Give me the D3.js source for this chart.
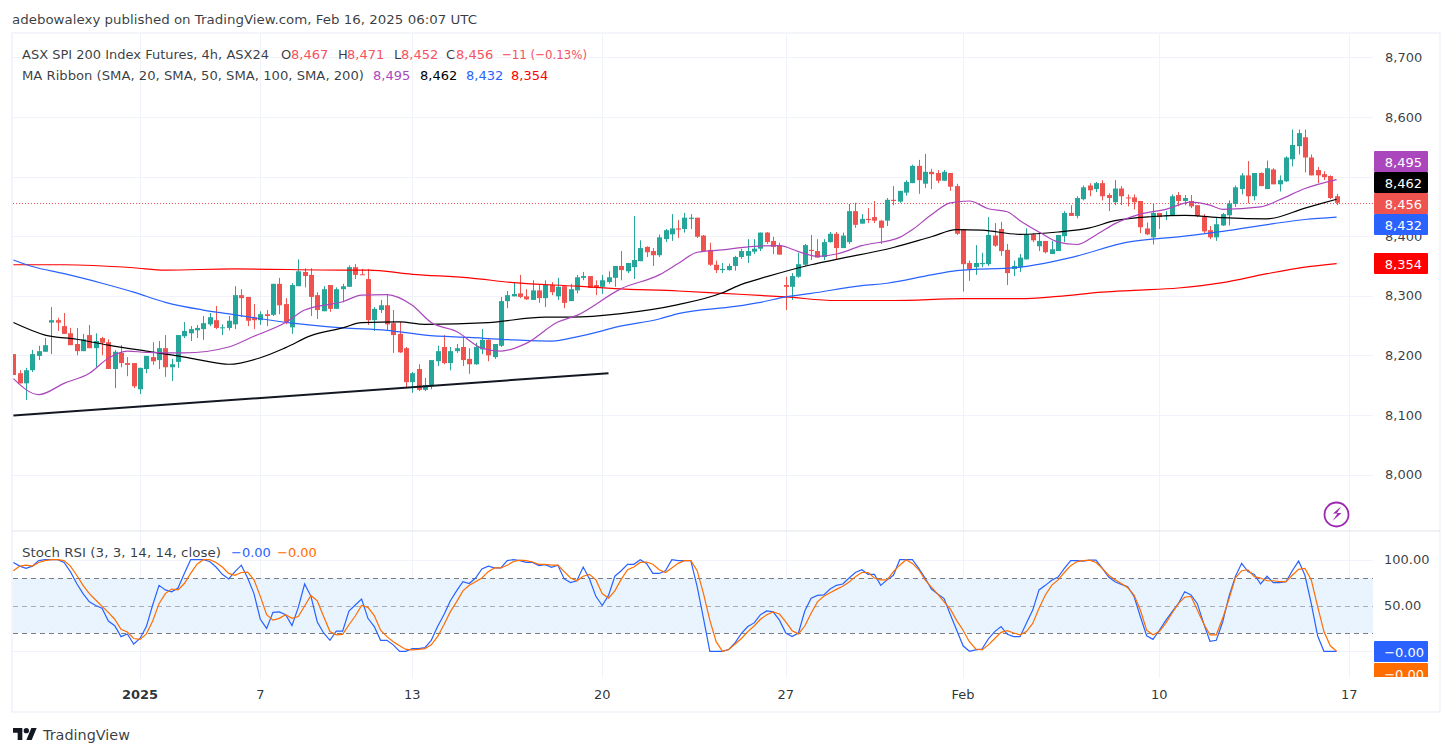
<!DOCTYPE html>
<html><head><meta charset="utf-8">
<script src="https://cdn.jsdelivr.net/npm/d3@7"></script>
<style>html,body{margin:0;padding:0;background:#fff}svg{display:block}text{font-family:"DejaVu Sans",sans-serif}</style>
</head><body><svg id="c" width="1453" height="756"></svg>
<script>
const opens=[8202,8170,8153,8175,8199,8206,8255,8259,8249,8237,
8219,8207,8234,8212,8229,8222,8177,8204,8187,8187,
8143,8177,8197,8192,8212,8180,8189,8232,8237,8242,
8244,8252,8259,8246,8246,8252,8301,8298,8264,8259,
8269,8268,8320,8286,8247,8316,8340,8335,8301,8274,
8318,8278,8311,8315,8348,8336,8328,8259,8276,8284,
8254,8236,8212,8155,8177,8142,8148,8190,8214,8187,
8207,8214,8194,8185,8210,8226,8197,8216,8291,8299,
8304,8299,8293,8309,8296,8318,8299,8316,8291,8309,
8330,8333,8318,8315,8323,8330,8350,8341,8348,8358,
8382,8375,8368,8395,8403,8413,8412,8429,8431,8401,
8377,8352,8343,8343,8350,8365,8367,8374,8379,8406,
8392,8385,8318,8315,8332,8352,8377,8375,8365,8390,
8404,8380,8390,8442,8421,8429,8432,8426,8426,8461,
8458,8473,8489,8518,8488,8508,8506,8493,8506,8484,
8411,8355,8348,8353,8353,8401,8412,8377,8345,8348,
8361,8403,8383,8392,8370,8375,8400,8439,8434,8462,
8485,8479,8489,8469,8457,8480,8465,8465,8459,8413,
8398,8439,8434,8434,8469,8459,8459,8452,8432,8410,
8398,8418,8435,8454,8479,8502,8467,8506,8479,8512,
8487,8492,8529,8551,8566,8532,8511,8504,8501,8467];
const highs=[8202,8175,8179,8209,8216,8229,8281,8263,8271,8246,
8246,8236,8251,8237,8231,8227,8209,8217,8197,8187,
8179,8199,8222,8224,8234,8194,8234,8256,8249,8251,
8266,8271,8283,8252,8266,8316,8311,8298,8286,8274,
8276,8320,8330,8296,8321,8361,8346,8346,8306,8316,
8318,8314,8320,8351,8353,8345,8345,8281,8293,8303,
8276,8256,8214,8172,8185,8162,8192,8216,8234,8214,
8219,8231,8212,8221,8244,8227,8219,8298,8308,8323,
8335,8311,8326,8318,8326,8323,8330,8316,8320,8335,
8340,8333,8326,8335,8341,8350,8375,8355,8434,8393,
8383,8380,8403,8412,8437,8427,8439,8437,8431,8402,
8389,8359,8355,8354,8367,8379,8395,8395,8406,8407,
8399,8389,8332,8338,8372,8387,8402,8395,8395,8407,
8407,8406,8454,8456,8437,8447,8459,8427,8464,8484,
8476,8494,8520,8528,8538,8513,8511,8511,8506,8488,
8411,8359,8385,8372,8432,8422,8424,8387,8359,8370,
8413,8405,8405,8392,8392,8402,8442,8452,8467,8485,
8489,8491,8494,8472,8494,8484,8470,8470,8459,8423,
8454,8439,8442,8470,8474,8469,8469,8452,8437,8417,
8432,8439,8460,8485,8506,8526,8506,8507,8527,8514,
8502,8534,8579,8579,8579,8537,8516,8509,8502,8471];
const lows=[8167,8153,8125,8172,8192,8206,8202,8241,8236,8217,
8200,8207,8212,8180,8200,8177,8145,8180,8165,8145,
8135,8170,8184,8177,8164,8157,8179,8229,8224,8229,
8226,8249,8244,8234,8242,8244,8264,8249,8244,8251,
8249,8266,8269,8252,8236,8316,8314,8266,8261,8274,
8273,8278,8289,8315,8328,8335,8251,8241,8271,8241,
8204,8204,8147,8137,8140,8140,8143,8182,8185,8175,
8204,8182,8169,8184,8202,8190,8194,8214,8279,8299,
8296,8293,8293,8288,8281,8301,8293,8279,8291,8304,
8326,8313,8301,8303,8320,8315,8326,8338,8328,8358,
8365,8350,8365,8390,8392,8397,8406,8412,8397,8374,
8350,8338,8338,8342,8342,8362,8355,8370,8375,8387,
8370,8369,8276,8293,8330,8350,8360,8364,8360,8389,
8360,8380,8387,8414,8421,8422,8422,8387,8417,8452,
8456,8468,8489,8471,8481,8479,8489,8493,8476,8402,
8307,8325,8335,8348,8350,8382,8367,8318,8333,8340,
8361,8390,8375,8371,8370,8375,8390,8434,8430,8460,
8467,8474,8460,8442,8452,8452,8450,8445,8405,8402,
8386,8412,8427,8434,8450,8452,8447,8432,8405,8395,
8392,8417,8418,8449,8470,8455,8460,8484,8479,8487,
8475,8491,8517,8537,8507,8502,8489,8494,8462,8452];
const closes=[8167,8153,8175,8202,8207,8217,8259,8255,8236,8217,
8207,8227,8212,8224,8221,8177,8206,8187,8184,8148,
8179,8199,8190,8212,8180,8185,8234,8241,8244,8246,
8254,8264,8246,8247,8258,8301,8296,8258,8259,8269,
8266,8320,8284,8256,8318,8341,8333,8298,8276,8311,
8278,8311,8316,8348,8335,8335,8259,8278,8284,8252,
8234,8205,8155,8170,8142,8150,8192,8207,8187,8207,
8212,8192,8185,8214,8226,8200,8219,8291,8301,8303,
8298,8294,8309,8296,8318,8306,8315,8288,8311,8331,
8333,8313,8313,8326,8331,8350,8343,8355,8360,8380,
8373,8368,8398,8410,8413,8411,8431,8431,8399,8375,
8352,8343,8345,8350,8365,8375,8375,8379,8406,8390,
8382,8369,8315,8333,8353,8385,8375,8364,8390,8404,
8380,8401,8442,8419,8429,8427,8426,8414,8461,8459,
8476,8491,8518,8494,8508,8504,8493,8508,8483,8404,
8353,8345,8355,8355,8402,8384,8375,8338,8350,8364,
8403,8393,8392,8373,8378,8402,8439,8434,8464,8482,
8477,8489,8467,8464,8480,8467,8464,8457,8415,8403,
8439,8432,8435,8467,8459,8464,8450,8434,8408,8398,
8420,8437,8455,8482,8502,8467,8506,8484,8514,8487,
8494,8532,8553,8573,8532,8502,8502,8499,8464,8456];

const sma20Idx=[0,4,8,12,15,18,21,27,34,38,43,46,52,55,59,63,66,70,74,77,81,86,89,96,102,105,108,112,117,121,124,127,130,134,140,142,145,148,151,154,157,159,162,165,168,171,174,178,182,186,189,191,197,200,204,209];
const sma20Val=[8161,8134,8153,8170,8195,8207,8205,8204,8214,8232,8255,8276,8290,8301,8302,8284,8255,8240,8212,8207,8220,8256,8267,8312,8335,8354,8373,8377,8383,8384,8374,8366,8370,8384,8398,8411,8436,8456,8459,8446,8441,8426,8407,8390,8386,8402,8421,8437,8445,8457,8452,8445,8449,8461,8480,8495];
const sma50Idx=[0,5,10,15,21,26,30,34,39,43,47,52,55,61,65,75,84,88,96,105,112,115,119,126,130,139,145,149,153,159,165,170,174,180,185,191,198,204,209];
const sma50Val=[8255,8234,8227,8217,8207,8199,8191,8185,8196,8213,8233,8246,8255,8256,8252,8255,8264,8264,8270,8285,8305,8319,8332,8352,8361,8381,8399,8411,8410,8403,8407,8414,8426,8433,8435,8431,8429,8447,8462];
const sma100Idx=[0,3,8,14,19,24,30,35,44,52,59,65,72,79,85,89,93,95,102,105,114,118,122,126,134,138,145,149,159,167,176,185,191,199,204,209];
const sma100Val=[8360,8349,8337,8321,8306,8289,8276,8268,8254,8246,8242,8234,8230,8226,8224,8231,8241,8247,8261,8270,8282,8289,8298,8304,8317,8321,8335,8342,8348,8364,8390,8400,8408,8421,8428,8432];
const sma200Idx=[0,8,19,24,35,52,56,63,72,79,89,95,105,112,122,130,139,150,159,165,172,177,184,191,198,204,209];
const sma200Val=[8352,8352,8347,8343,8345,8343,8343,8336,8330,8322,8316,8312,8308,8304,8298,8292,8292,8295,8295,8299,8306,8309,8313,8322,8337,8348,8354];
const trendIdx=[0,94];
const trendVal=[8099,8170];

const stochK=[97,93,90.5,93,99,100,100,100,97,87,
74,63,54,50,47,33,28,16,19,8,
14,27,50.5,72,67,65,69,85,100,100,
100,98,92,84,79,87,94,80,63,35,
25,42.5,43,40,28,48,73.5,60,32,20,
12,22,22,44,50.5,57,36,27,12,12,
7,0,0,3,3,4,12,27,40,55,
66,76,74,80,90,93,91,91,99,100,
99,97,97,93.5,94.5,91.6,94,79,75,77,
92,79,60,50,61,82,88,95,95,100,
96,85,85,88,100,99,99,99,70.5,36,
0,0,0,2,9.5,19.6,27,31,40,44,
43,34,20,16,20,44,58,61,61.5,68,
72,73.5,80,86,89,84,84,72,78,83,
100,100,100,90.5,80,68,62.5,57.5,40,23,
6,0,1.5,2.5,13.5,21.5,27,18.5,16,16,
30.5,45,67,72,77.5,81,90.5,99,99,98.5,
99.6,99.6,90.5,81,76,73,70.5,60,38,17,
13,23,33.5,43,52,65,61.5,52,30.5,11,
12,32,60,81.5,96,87,84,73.5,82,75,
75,76,88,98.5,83,52,17,0,0,0];
const stochD=[88,93,94,93,97,99,100,100,99,93,
83,72,63,56,49,42.5,35,24,21,14,
13,19,33,52,63,68,67,74,85,95,
100,100,97,92,85,83,86,86.5,78,60,
40,34,36,40,36,38,49.5,61,55,38,
21.5,18,18.5,29,38.5,50,48,39,23,16,
10.5,6,2,1.5,2,3,7,16,29,43,
54,66,72,76,80,87,91,91,94,98,
99.6,99,97.5,95,95,94,94,87,80,77,
82,84,78,63,58,66,78.5,89,92,97,
97.5,95,89,86,91,96,99,99,88,63,
34,10.5,0,2,8,14,21.5,27.6,35,40,
43,40.7,32,22.5,19,27.6,41.5,54,60,64,
67.6,71,75.6,81.5,86,86,80,78,78,87,
94,100,96,89,78,70,62.5,54,46,33.5,
23,10.5,2.5,1.5,7,14,20.7,22.5,20,18,
21.5,30.5,47,61.5,72,78,86,93.5,98,99,
99.6,97,90.5,83,78,74,69.5,61.5,45,23,
18,21.5,30.5,41.5,52,59,60,45,30,18,
18,36,57,80,88,89,81.5,80,77,77,
76,76,83,89.5,90.5,78,49,21.5,6,0];

const dateIdx=[20,39,63,93,122,150,181,211];
const dateLabels=["2025","7","13","20","27","Feb","10","17"];
const priceTicks=[8000,8100,8200,8300,8400,8500,8600,8700];
const priceLabelTicks=[8000,8100,8200,8300,8400,8600,8700];
const lastLabels=[["8,495",8495,"#ab47bc"],["8,462",8462,"#000000"],["8,456",8456,"#ef5350"],["8,432",8432,"#2962ff"],["8,354",8354,"#ff0000"]];

const UP="#26a69a",DN="#ef5350",GRID="#f0f3fa",BORDER="#e0e3eb",TXT="#131722";
const L=13,R=1373,PT=34,PB=531,ST=532,SB=678;
const svg=d3.select("#c");
const x=d3.scaleLinear().domain([0,209]).range([13.4,1336.6]);
const y=d3.scaleLinear().domain([8000,8700]).range([474.5,57.4]);
const ys=d3.scaleLinear().domain([0,100]).range([651.3,559.7]);
const defs=svg.append("defs");
defs.append("clipPath").attr("id","cp").append("rect").attr("x",L).attr("y",PT).attr("width",R-L).attr("height",PB-PT);
defs.append("clipPath").attr("id","cs").append("rect").attr("x",L).attr("y",ST).attr("width",R-L).attr("height",SB-ST);
defs.append("clipPath").attr("id","cl").append("rect").attr("x",1370).attr("y",ST).attr("width",70).attr("height",SB-ST-1);
const pat=defs.append("pattern").attr("id","dots").attr("width",6).attr("height",6).attr("patternUnits","userSpaceOnUse");
pat.append("rect").attr("width",6).attr("height",6).attr("fill","#e9f4fe");
pat.append("circle").attr("cx",1).attr("cy",1).attr("r",.5).attr("fill","#deeefb");
pat.append("circle").attr("cx",4).attr("cy",4).attr("r",.5).attr("fill","#deeefb");

svg.append("rect").attr("x",12).attr("y",33).attr("width",1428).attr("height",679).attr("fill","none").attr("stroke",GRID).attr("stroke-width",1.6);

const grid=svg.append("g");
grid.selectAll(".v").data(dateIdx).join("line").attr("x1",d=>Math.round(x(d))+.5).attr("x2",d=>Math.round(x(d))+.5).attr("y1",PT).attr("y2",SB).attr("stroke",GRID);
grid.selectAll(".h").data(priceTicks).join("line").attr("x1",L).attr("x2",R).attr("y1",d=>Math.round(y(d))+.5).attr("y2",d=>Math.round(y(d))+.5).attr("stroke",GRID);
grid.selectAll(".hs").data([0,100]).join("line").attr("x1",L).attr("x2",R).attr("y1",d=>Math.round(ys(d))+.5).attr("y2",d=>Math.round(ys(d))+.5).attr("stroke",GRID);
svg.append("line").attr("x1",12).attr("x2",1440).attr("y1",531).attr("y2",531).attr("stroke",BORDER).attr("stroke-width",1.2);

const p=svg.append("g").attr("clip-path","url(#cp)");
const idx=d3.range(opens.length);
p.append("line").attr("x1",L).attr("x2",R).attr("y1",Math.round(y(closes[209]))+.5).attr("y2",Math.round(y(closes[209]))+.5).attr("stroke",DN).attr("stroke-dasharray","1 2");
const col=i=>closes[i]>=opens[i]?UP:DN;
p.selectAll(".w").data(idx).join("line").attr("x1",i=>Math.round(x(i))+.5).attr("x2",i=>Math.round(x(i))+.5).attr("y1",i=>y(highs[i])).attr("y2",i=>y(lows[i])).attr("stroke",col);
p.selectAll(".b").data(idx).join("rect").attr("x",i=>Math.round(x(i))-2).attr("width",5)
 .attr("y",i=>y(Math.max(opens[i],closes[i]))).attr("height",i=>Math.max(1,Math.abs(y(opens[i])-y(closes[i])))).attr("fill",col);
const ln=(X,Y)=>d3.line().x((d,i)=>x(X[i])).y((d,i)=>y(Y[i])).curve(d3.curveMonotoneX)(X);
[[sma200Idx,sma200Val,"#ff0000"],[sma100Idx,sma100Val,"#2962ff"],[sma50Idx,sma50Val,"#000000"],[sma20Idx,sma20Val,"#ab47bc"]].forEach(([X,Y,c])=>{
  p.append("path").attr("d",ln(X,Y)).attr("fill","none").attr("stroke",c).attr("stroke-width",1.2);
});
p.append("path").attr("d",ln(trendIdx,trendVal)).attr("fill","none").attr("stroke","#131722").attr("stroke-width",2);

const s=svg.append("g").attr("clip-path","url(#cs)");
s.append("rect").attr("x",L).attr("width",R-L).attr("y",ys(80)).attr("height",ys(20)-ys(80)).attr("fill","url(#dots)");
s.selectAll(".d").data([80,50,20]).join("line").attr("x1",L).attr("x2",R).attr("y1",d=>Math.round(ys(d))+.5).attr("y2",d=>Math.round(ys(d))+.5)
 .attr("stroke",d=>d==50?"#a9acb5":"#787b86").attr("stroke-dasharray","5 4");
const sl=a=>d3.line().x((d,i)=>x(i)).y(d=>ys(d))(a);
s.append("path").attr("d",sl(stochK)).attr("fill","none").attr("stroke","#2962ff").attr("stroke-width",1.2);
s.append("path").attr("d",sl(stochD)).attr("fill","none").attr("stroke","#ff6d00").attr("stroke-width",1.2);

const ax=svg.append("g").attr("transform","translate(1373,0)").call(d3.axisRight(y).tickValues(priceLabelTicks).tickFormat(d3.format(",")).tickSize(0).tickPadding(12));
ax.select(".domain").remove();
ax.selectAll("text").attr("font-size",13).attr("fill",TXT).attr("fill-opacity",.85).style("font-family",'"DejaVu Sans"');
const as=svg.append("g").attr("transform","translate(1373,0)").call(d3.axisRight(ys).tickValues([50,100]).tickFormat(d3.format(".2f")).tickSize(0).tickPadding(11));
as.select(".domain").remove();
as.selectAll("text").attr("font-size",13).attr("fill",TXT).attr("fill-opacity",.85).style("font-family",'"DejaVu Sans"');
svg.selectAll(".dl").data(dateIdx).join("text").attr("x",d=>x(d)).attr("y",699).attr("text-anchor","middle").attr("font-size",13).attr("fill",TXT).attr("fill-opacity",.9)
 .attr("font-weight",(d,i)=>i==0?"bold":"normal").text((d,i)=>dateLabels[i]);

lastLabels.forEach(([t,v,c])=>{
  const g=svg.append("g");
  const c0=t=="8,495"?161.5:t=="8,462"?182.5:t=="8,456"?203.5:t=="8,432"?224.5:y(v);
  g.append("rect").attr("x",1374).attr("width",54).attr("y",c0-10.5).attr("height",21).attr("rx",1).attr("fill",c);
  g.append("text").attr("x",1422).attr("y",c0+5).attr("text-anchor","end").attr("font-size",13).attr("fill","#fff").text(t);
});
svg.append("rect").attr("x",1374).attr("width",54).attr("y",641).attr("height",21).attr("rx",1).attr("fill","#2962ff");
svg.append("text").attr("x",1424).attr("y",656.5).attr("text-anchor","end").attr("font-size",13).attr("fill","#fff").text("−0.00");
const og=svg.append("g").attr("clip-path","url(#cl)");
og.append("rect").attr("x",1374).attr("width",54).attr("y",663).attr("height",21).attr("rx",1).attr("fill","#ff6d00");
og.append("text").attr("x",1424).attr("y",678.5).attr("text-anchor","end").attr("font-size",13).attr("fill","#fff").text("−0.00");

const t=(x0,y0,str,c,size,len)=>{const e=svg.append("text").attr("x",x0).attr("y",y0).attr("font-size",size||13).attr("fill",c||TXT).attr("fill-opacity",c?1:.85).text(str);
  if(len)e.attr("textLength",len).attr("lengthAdjust","spacingAndGlyphs");return e;};
t(12,24,"adebowalexy published on TradingView.com, Feb 16, 2025 06:07 UTC",null,13,465);
const RD="#f7525f";
t(22,59,"ASX SPI 200 Index Futures, 4h, ASX24",null,13,247);
t(281,59,"O");t(291,59,"8,467",RD);t(338,59,"H");t(347,59,"8,471",RD);t(394,59,"L");t(401,59,"8,452",RD);t(446,59,"C");t(456,59,"8,456",RD);t(502,59,"−11 (−0.13%)",RD,13,85);
t(22,80,"MA Ribbon (SMA, 20, SMA, 50, SMA, 100, SMA, 200)",null,13,342);
t(373,80,"8,495","#ab47bc");t(420,80,"8,462","#000");t(466,80,"8,432","#2962ff");t(511,80,"8,354","#ff0000");
t(22,557,"Stoch RSI (3, 3, 14, 14, close)",null,13,199);
t(231,557,"−0.00","#2962ff");t(277,557,"−0.00","#ff6d00");

svg.append("g").attr("transform","translate(13,725.3) scale(.667)").call(g=>{
  g.append("path").attr("d","M14 22H7V11H0V4h14v18zM28 22h-8l7.5-18h8L28 22z").attr("fill","#131722");
  g.append("circle").attr("cx",20).attr("cy",8).attr("r",4).attr("fill","#131722");
});
t(43,740,"TradingView",null,14,87);

svg.append("circle").attr("cx",1336.5).attr("cy",514.5).attr("r",12).attr("fill","#fff").attr("stroke","#9c27b0").attr("stroke-width",1.8);
svg.append("path").attr("d","M1341 506.5l-8 7h4.5l-5 7.5 9-8h-4.5z").attr("fill","#9c27b0");
</script></body></html>
